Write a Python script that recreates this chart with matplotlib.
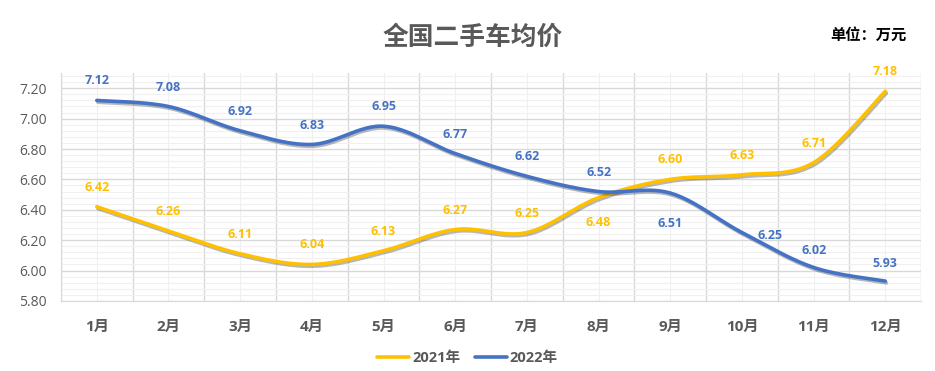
import matplotlib
matplotlib.use("Agg")
import matplotlib.pyplot as plt
import matplotlib.patheffects as pe
from matplotlib.ticker import MultipleLocator, FixedLocator
import numpy as np

plt.rcParams['font.family'] = ['Open Sans', 'Noto Sans CJK SC', 'DejaVu Sans']

months = ['1月', '2月', '3月', '4月', '5月', '6月', '7月', '8月', '9月', '10月', '11月', '12月']
price_2021 = [6.42, 6.26, 6.11, 6.04, 6.13, 6.27, 6.25, 6.48, 6.60, 6.63, 6.71, 7.18]
price_2022 = [7.12, 7.08, 6.92, 6.83, 6.95, 6.77, 6.62, 6.52, 6.51, 6.25, 6.02, 5.93]

# label placement (offset in points) per series
off_2021 = [(0, 14)] * 7 + [(0, -18)] + [(0, 14)] * 4
off_2022 = [(0, 14)] * 8 + [(0, -22)] + [(20, -2)] + [(0, 12), (0, 13)]

c21 = '#FFC000'
c22 = '#4472C4'


def smooth(y, n=30):
    # Catmull-Rom style smoothing like Excel's "smoothed line"
    x = np.arange(len(y), dtype=float)
    pts = np.column_stack([x, np.asarray(y, float)])
    p = np.vstack([pts[0], pts, pts[-1]])
    out = []
    t = np.linspace(0, 1, n)[:, None]
    for i in range(1, len(p) - 2):
        p0, p1, p2, p3 = p[i - 1], p[i], p[i + 1], p[i + 2]
        c1 = p1 + (p2 - p0) / 6
        c2 = p2 - (p3 - p1) / 6
        seg = ((1 - t) ** 3) * p1 + 3 * ((1 - t) ** 2) * t * c1 + 3 * (1 - t) * t ** 2 * c2 + t ** 3 * p2
        out.append(seg if i == 1 else seg[1:])
    s = np.vstack(out)
    return s[:, 0], s[:, 1]


fig = plt.figure(figsize=(9.35, 3.71), dpi=100)
ax = fig.add_axes([0.0652, 0.189, 0.92, 0.614])

shadow = [pe.SimpleLineShadow(offset=(0.8, -1.3), shadow_color='#333333', alpha=0.35), pe.Normal()]
for vals, col, lab, offs in [(price_2021, c21, '2021年', off_2021), (price_2022, c22, '2022年', off_2022)]:
    sx, sy = smooth(vals)
    ax.plot(sx, sy, color=col, lw=2.6, solid_capstyle='round', label=lab, path_effects=shadow, zorder=3)
    for i, v in enumerate(vals):
        ax.annotate(f'{v:.2f}', (i, v), xytext=offs[i], textcoords='offset points',
                    ha='center', va='center', color=col, fontsize=9, fontweight='bold')

ax.set_xlim(-0.5, 11.5)
ax.set_ylim(5.80, 7.30)
ax.yaxis.set_major_locator(FixedLocator(np.arange(5.8, 7.21, 0.2)))
ax.yaxis.set_minor_locator(MultipleLocator(0.04))
ax.yaxis.set_major_formatter(matplotlib.ticker.FormatStrFormatter('%.2f'))
ax.set_xticks(range(12))
ax.set_xticklabels(months, fontsize=11, fontweight='bold', color='#595959')
ax.xaxis.set_minor_locator(FixedLocator(np.arange(-0.5, 12, 1)))
ax.tick_params(axis='both', which='both', length=0)
ax.tick_params(axis='y', labelsize=10, labelcolor='#595959', pad=10)
ax.tick_params(axis='x', pad=14)

ax.grid(axis='y', which='major', color='#D9D9D9', lw=1)
ax.grid(axis='y', which='minor', color='#F0F0F0', lw=0.8)
ax.grid(axis='x', which='minor', color='#D9D9D9', lw=1)
ax.grid(axis='x', which='major', color='#F0F0F0', lw=0.8)
ax.set_axisbelow(True)
for s in ['top', 'right']:
    ax.spines[s].set_visible(False)
for s in ['left', 'bottom']:
    ax.spines[s].set_color('#D9D9D9')

fig.text(0.506, 0.90, '全国二手车均价', ha='center', va='center', fontsize=18.5,
         fontweight='bold', color='#595959')
fig.text(0.929, 0.905, '单位：万元', ha='center', va='center', fontsize=11,
         fontweight='bold', color='black')

leg = fig.legend(loc='center', bbox_to_anchor=(0.5, 0.035), ncol=2, frameon=False,
                 handlelength=2.2, handletextpad=0.2, columnspacing=1.0,
                 prop={'weight': 'bold', 'size': 10.5})
for t in leg.get_texts():
    t.set_color('#595959')
for h in leg.legend_handles:
    h.set_path_effects([])

fig.savefig('out.png', dpi=100)
